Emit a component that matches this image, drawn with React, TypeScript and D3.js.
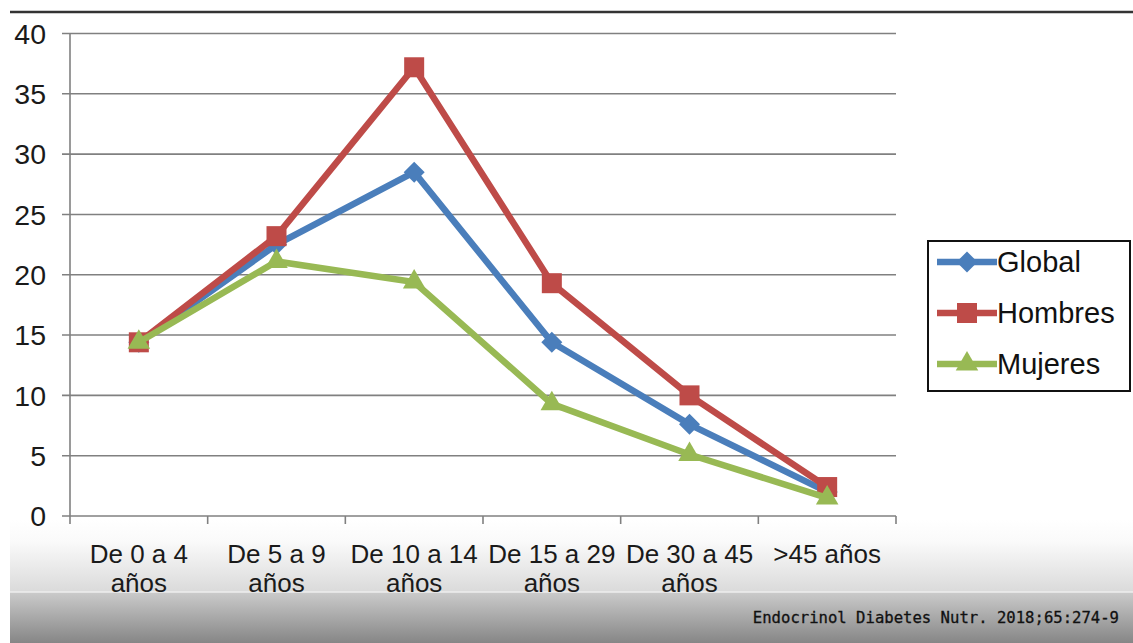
import React from "react";
import * as d3 from "d3";

// Age groups (two lines per label)
const categories: string[][] = [
  ["De 0 a 4", "años"],
  ["De 5 a 9", "años"],
  ["De 10 a 14", "años"],
  ["De 15 a 29", "años"],
  ["De 30 a 45", "años"],
  [">45 años"],
];

const globalValues = [14.4, 22.5, 28.5, 14.4, 7.6, 2.0];
const hombresValues = [14.4, 23.2, 37.2, 19.3, 10.0, 2.4];
const mujeresValues = [14.4, 21.1, 19.4, 9.3, 5.1, 1.5];

const yTicks = [0, 5, 10, 15, 20, 25, 30, 35, 40];
const seriesNames = ["Global", "Hombres", "Mujeres"];
const seriesColors = ["#4a7ebb", "#be4b48", "#98b954"];
const seriesMarkers = ["diamond", "square", "triangle"];

const footerText = "Endocrinol Diabetes Nutr. 2018;65:274-9";

const W = 1133;
const H = 643;
const plot = { left: 70, right: 896, top: 33.5, bottom: 516 };

const FONT = "'Liberation Sans', Arial, Helvetica, sans-serif";

function Marker({ type, x, y, color }: { type: string; x: number; y: number; color: string }) {
  if (type === "square") {
    const s = 20;
    return <rect x={x - s / 2} y={y - s / 2} width={s} height={s} fill={color} />;
  }
  if (type === "diamond") {
    const r = 10.5;
    return <path d={`M${x},${y - r}L${x + r},${y}L${x},${y + r}L${x - r},${y}Z`} fill={color} />;
  }
  const sym = d3.symbol().type(d3.symbolTriangle).size(220)();
  return <path d={sym || ""} transform={`translate(${x},${y})`} fill={color} />;
}

export default function App() {
  const labels = categories.map((c) => c.join(" "));
  const x = d3.scaleBand<string>().domain(labels).range([plot.left, plot.right]).padding(0);
  const y = d3.scaleLinear().domain([0, 40]).range([plot.bottom, plot.top]);
  const bw = x.bandwidth();
  const cx = (i: number) => (x(labels[i]) as number) + bw / 2;

  const series = [globalValues, hombresValues, mujeresValues];
  const line = d3
    .line<number>()
    .x((_, i) => cx(i))
    .y((d) => y(d));

  const boundaries = d3.range(labels.length + 1).map((i) => plot.left + i * bw);
  const legendRows = [262, 313, 364];

  return (
    <svg
      width={W}
      height={H}
      style={{ position: "absolute", left: 0, top: 0, display: "block", background: "#fff" }}
    >
      <defs>
        <linearGradient id="fadeTop" x1="0" y1="0" x2="0" y2="1">
          <stop offset="0" stopColor="#ffffff" />
          <stop offset="0.3" stopColor="#fafafa" />
          <stop offset="1" stopColor="#dadada" />
        </linearGradient>
        <linearGradient id="fadeBottom" x1="0" y1="0" x2="0" y2="1">
          <stop offset="0" stopColor="#cbcbcb" />
          <stop offset="1" stopColor="#868686" />
        </linearGradient>
      </defs>

      {/* footer shading */}
      <rect x={10} y={520} width={W - 10} height={72} fill="url(#fadeTop)" />
      <rect x={10} y={592} width={W - 10} height={H - 592} fill="url(#fadeBottom)" />
      <line x1={10} x2={W} y1={592} y2={592} stroke="#eeeeee" strokeWidth={1.5} />

      {/* top rule */}
      <line x1={10} x2={W} y1={12} y2={12} stroke="#333" strokeWidth={2.5} />

      {/* gridlines */}
      {yTicks.map((t) => (
        <line
          key={"g" + t}
          x1={plot.left - 8}
          x2={plot.right}
          y1={y(t)}
          y2={y(t)}
          stroke="#808080"
          strokeWidth={1.6}
        />
      ))}
      {/* y axis */}
      <line x1={plot.left} x2={plot.left} y1={plot.top} y2={plot.bottom} stroke="#808080" strokeWidth={1.6} />
      {/* x ticks */}
      {boundaries.map((bx, i) => (
        <line key={"xt" + i} x1={bx} x2={bx} y1={plot.bottom} y2={plot.bottom + 8} stroke="#808080" strokeWidth={1.6} />
      ))}

      {/* y labels */}
      {yTicks.map((t) => (
        <text
          key={"yl" + t}
          x={46}
          y={y(t)}
          dy="0.36em"
          textAnchor="end"
          fontFamily={FONT}
          fontSize={28.5}
          fill="#1a1a1a"
        >
          {t}
        </text>
      ))}

      {/* x labels */}
      {categories.map((c, i) => (
        <text key={"xl" + i} textAnchor="middle" fontFamily={FONT} fontSize={26} fill="#1a1a1a">
          {c.map((ln, j) => (
            <tspan key={j} x={cx(i)} y={563 + j * 29}>
              {ln}
            </tspan>
          ))}
        </text>
      ))}

      {/* series */}
      {series.map((vals, s) => (
        <g key={"s" + s}>
          <path d={line(vals) || ""} fill="none" stroke={seriesColors[s]} strokeWidth={6.5} strokeLinejoin="miter" />
          {vals.map((v, i) => (
            <Marker key={i} type={seriesMarkers[s]} x={cx(i)} y={y(v)} color={seriesColors[s]} />
          ))}
        </g>
      ))}

      {/* legend */}
      <rect x={928} y={241} width={202} height={150} fill="#fff" stroke="#111" strokeWidth={2} />
      {seriesNames.map((n, s) => (
        <g key={"lg" + s}>
          <line x1={937} x2={997} y1={legendRows[s]} y2={legendRows[s]} stroke={seriesColors[s]} strokeWidth={6.5} />
          <Marker type={seriesMarkers[s]} x={967} y={legendRows[s]} color={seriesColors[s]} />
          <text x={997} y={legendRows[s]} dy="0.36em" fontFamily={FONT} fontSize={29} fill="#111">
            {n}
          </text>
        </g>
      ))}

      {/* source line */}
      <text
        x={1119}
        y={623}
        textAnchor="end"
        fontFamily="'DejaVu Sans Mono', monospace"
        fontSize={15.6}
        fill="#111"
        stroke="#111"
        strokeWidth={0.3}
      >
        {footerText}
      </text>
    </svg>
  );
}
